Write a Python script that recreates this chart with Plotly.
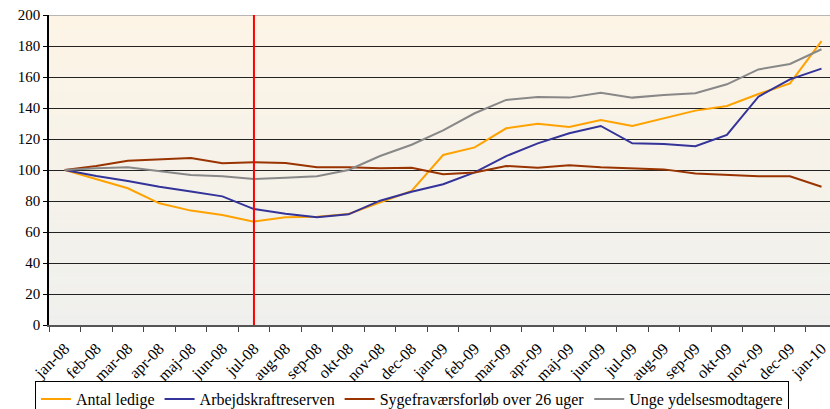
import plotly.graph_objects as go

months = ["jan-08", "feb-08", "mar-08", "apr-08", "maj-08", "jun-08", "jul-08",
          "aug-08", "sep-08", "okt-08", "nov-08", "dec-08", "jan-09", "feb-09",
          "mar-09", "apr-09", "maj-09", "jun-09", "jul-09", "aug-09", "sep-09",
          "okt-09", "nov-09", "dec-09", "jan-10"]

antal_ledige = [100, 94, 88.2, 78.5, 73.8, 71, 66.7, 69.5, 69.9, 71.6, 79, 86.5,
                109.7, 114.6, 126.9, 129.9, 127.7, 132.3, 128.4, 133.3, 138.3,
                141.3, 149, 155.9, 183.2]
arbejdskraftreserven = [100, 96.1, 92.9, 89.2, 86.2, 83, 74.8, 71.8, 69.5, 71.4,
                        80.2, 86, 90.8, 98.5, 109, 117.2, 123.7, 128.4, 117.2,
                        116.8, 115.3, 122.6, 147.3, 158.5, 165.4]
sygefravaer = [100, 102.6, 106, 106.9, 107.7, 104.3, 105, 104.5, 101.7, 101.7,
               101.1, 101.5, 97.2, 98.4, 102.6, 101.5, 103, 101.7, 101.1, 100.4,
               97.8, 97, 95.9, 95.9, 89.2]
unge = [100, 101.1, 101.7, 99.4, 96.8, 95.9, 94.2, 95, 95.9, 100, 109, 116.3,
        125.6, 136.6, 145.2, 147.1, 146.7, 149.9, 146.7, 148.4, 149.5, 155.3,
        164.9, 168.4, 177.9]

series_names = ["Antal ledige", "Arbejdskraftreserven",
                "Sygefraværsforløb over 26 uger", "Unge ydelsesmodtagere"]
series_values = [antal_ledige, arbejdskraftreserven, sygefravaer, unge]
series_colors = ["#FFA200", "#333399", "#993300", "#888888"]

marker_month = "jul-08"
y_ticks = list(range(0, 201, 20))

FONT = "Liberation Serif, Times New Roman, serif"

fig = go.Figure()
for name, vals, col in zip(series_names, series_values, series_colors):
    fig.add_trace(go.Scatter(x=months, y=vals, mode="lines", name=name,
                             line=dict(color=col, width=2)))

# gradient background (peach at top to light gray at bottom)
top = (253, 244, 229)
bot = (239, 240, 238)
n = 60
shapes = []
for k in range(n):
    t = (k + 0.5) / n
    c = tuple(round(bot[j] + (top[j] - bot[j]) * t) for j in range(3))
    shapes.append(dict(type="rect", xref="paper", yref="y", x0=0, x1=1,
                       y0=200 * k / n, y1=200 * (k + 1) / n,
                       fillcolor="rgb(%d,%d,%d)" % c, line=dict(width=0),
                       layer="below"))
# top border
shapes.append(dict(type="line", xref="paper", yref="y", x0=0, x1=1, y0=200, y1=200,
                   line=dict(color="#A0A0A0", width=1.5), layer="above"))
# red vertical marker
shapes.append(dict(type="line", xref="x", yref="y", x0=marker_month, x1=marker_month,
                   y0=0, y1=200, line=dict(color="#FF0000", width=2), layer="above"))

fig.update_layout(
    width=830, height=409,
    margin=dict(l=49, r=0, t=15, b=84, autoexpand=False),
    paper_bgcolor="white", plot_bgcolor="rgb(246,243,236)",
    font=dict(family=FONT, color="black"),
    shapes=shapes,
    showlegend=True,
    legend=dict(orientation="h", x=-0.018, xanchor="left", y=-0.181, yanchor="top",
                bordercolor="black", borderwidth=1, bgcolor="white",
                font=dict(family=FONT, size=16, color="black"),
                itemwidth=30, tracegroupgap=0),
)
fig.update_xaxes(type="category", range=[-0.5, 24.27], tickson="boundaries",
                 ticks="outside", ticklen=5, tickcolor="#444", tickwidth=1,
                 tickangle=-45, tickfont=dict(size=16, family=FONT),
                 ticklabelstandoff=6,
                 showgrid=False, showline=True, linecolor="#555", linewidth=2,
                 zeroline=False)
fig.update_yaxes(range=[0, 200], tickvals=y_ticks, ticks="outside", ticklen=4,
                 tickcolor="black", tickfont=dict(size=15, family=FONT),
                 ticklabeloverflow="allow",
                 showgrid=True, gridcolor="#222222", gridwidth=1,
                 showline=True, linecolor="black", linewidth=1.5, zeroline=False)

# remove the default page margin so the figure sits at the window's corner
fig.write_html("out.html", config={"displayModeBar": False},
               post_script="document.body.style.margin='0';")
